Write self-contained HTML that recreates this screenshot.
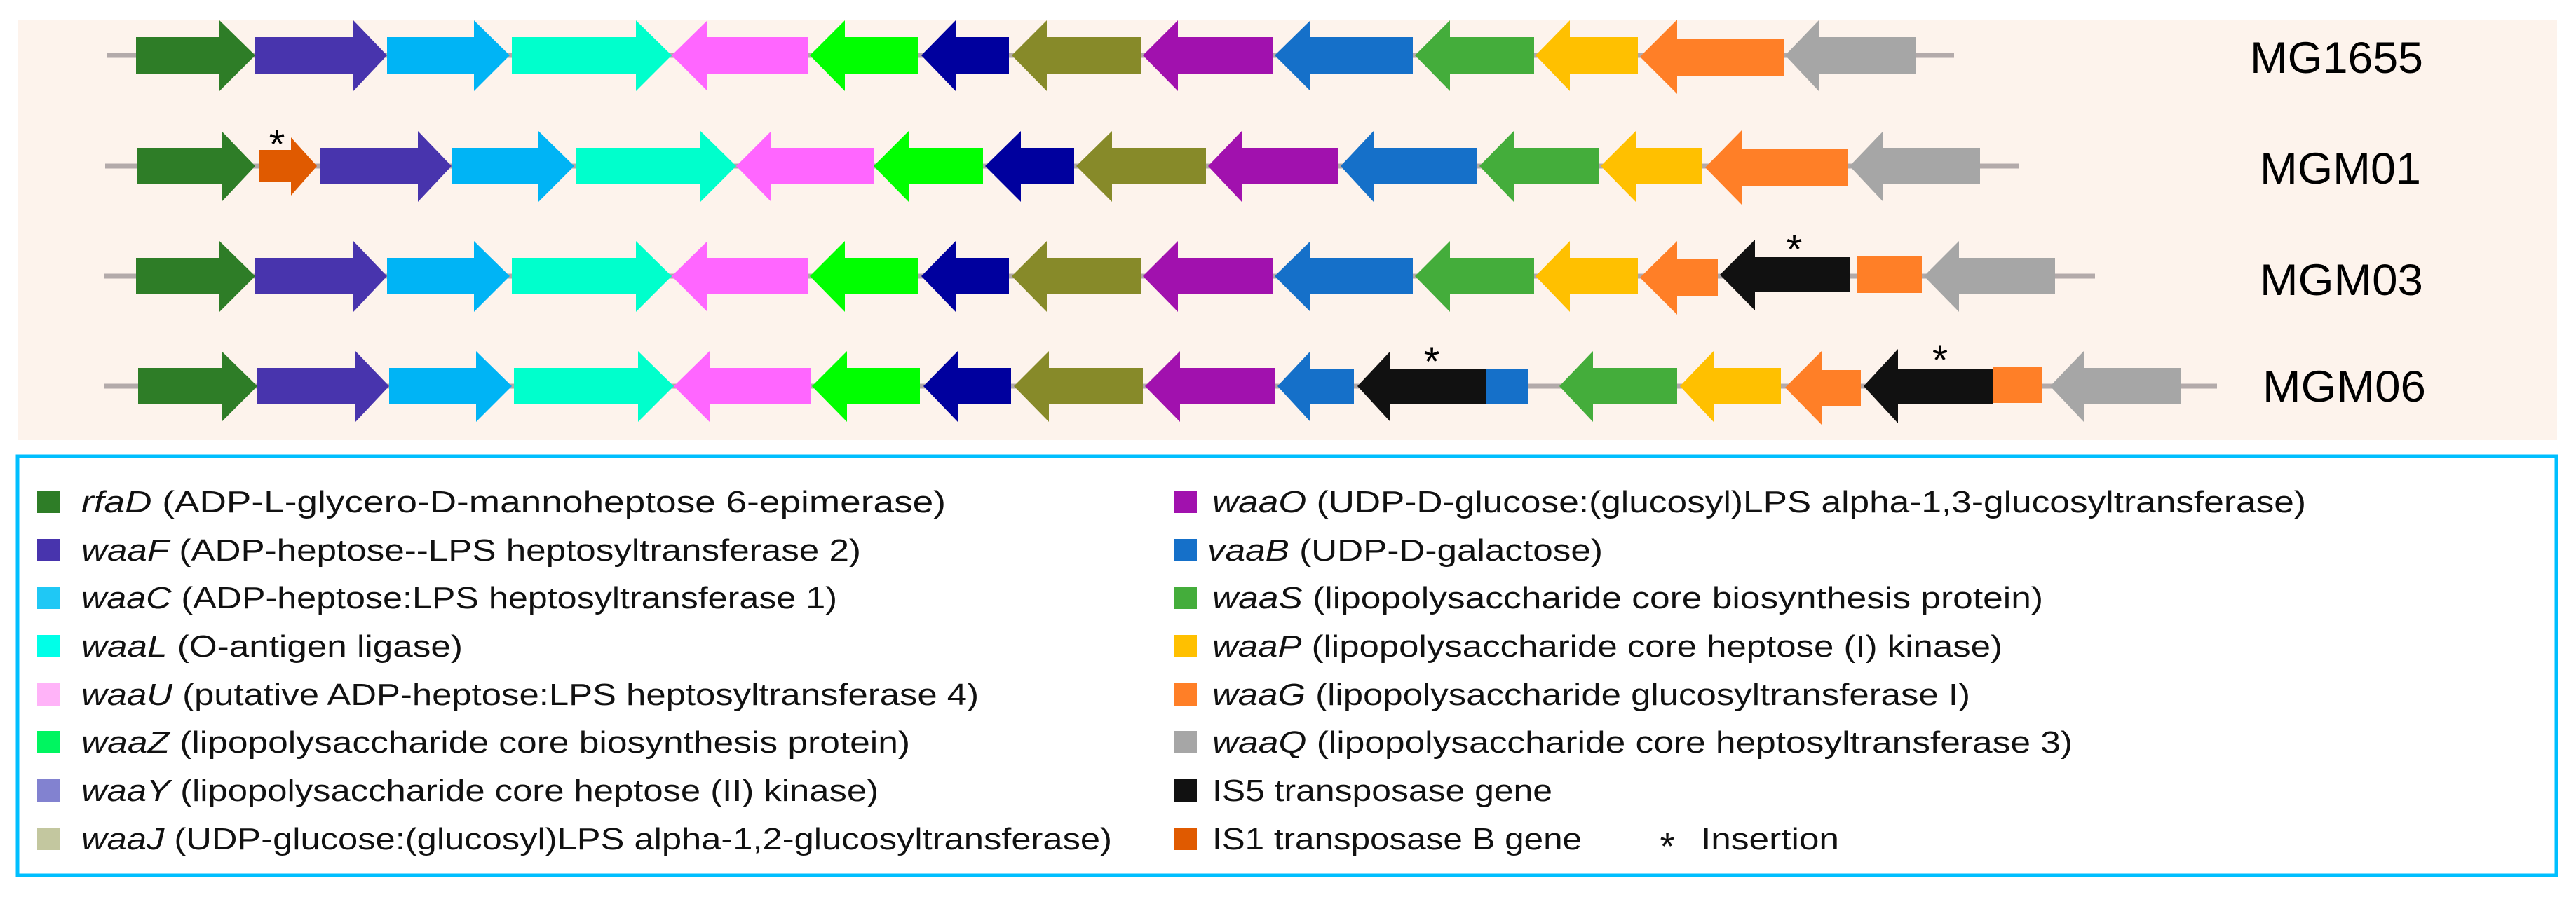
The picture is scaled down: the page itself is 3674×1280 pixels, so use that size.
<!DOCTYPE html>
<html><head><meta charset="utf-8"><style>
html,body{margin:0;padding:0;background:#fff;}
svg{display:block;}
</style></head><body>
<svg width="3674" height="1280" viewBox="0 0 3674 1280" xmlns="http://www.w3.org/2000/svg" font-family="'Liberation Sans', sans-serif">
<rect x="0" y="0" width="3674" height="1280" fill="#ffffff"/>
<rect x="26" y="29" width="3621" height="599" fill="#fdf3ec"/>

<g stroke="#b3aaaa" stroke-width="7">
<line x1="152" y1="79" x2="2787" y2="79"/>
<line x1="150" y1="237" x2="2880" y2="237"/>
<line x1="149" y1="394" x2="2988" y2="394"/>
<line x1="149" y1="551" x2="3162" y2="551"/>
</g>

<g>
<polygon fill="#2e7d27" points="194,53 313,53 313,29 364,79 313,130 313,105 194,105"/>
<polygon fill="#4834ad" points="364,53 504,53 504,29 552,79 504,130 504,105 364,105"/>
<polygon fill="#00b4f5" points="552,53 676,53 676,29 727,79 676,130 676,105 552,105"/>
<polygon fill="#00ffcc" points="730,53 907,53 907,29 958,79 907,130 907,105 730,105"/>
<polygon fill="#ff66ff" points="958,79 1009,29 1009,53 1153,53 1153,105 1009,105 1009,130"/>
<polygon fill="#00ff00" points="1155,79 1205,29 1205,53 1309,53 1309,105 1205,105 1205,130"/>
<polygon fill="#00009e" points="1314,79 1363,29 1363,53 1439,53 1439,105 1363,105 1363,130"/>
<polygon fill="#878a29" points="1443,79 1493,29 1493,53 1627,53 1627,105 1493,105 1493,130"/>
<polygon fill="#a111ae" points="1630,79 1680,29 1680,53 1816,53 1816,105 1680,105 1680,130"/>
<polygon fill="#1570c9" points="1818,79 1869,29 1869,53 2015,53 2015,105 1869,105 1869,130"/>
<polygon fill="#44ad3b" points="2018,79 2068,29 2068,53 2188,53 2188,105 2068,105 2068,130"/>
<polygon fill="#ffc000" points="2190,79 2239,29 2239,53 2336,53 2336,105 2239,105 2239,130"/>
<polygon fill="#ff7f27" points="2339,81 2392,28 2392,55 2544,55 2544,108 2392,108 2392,134"/>
<polygon fill="#a6a6a6" points="2546,79 2594,29 2594,53 2732,53 2732,105 2594,105 2594,130"/>
</g>

<g>
<polygon fill="#2e7d27" points="196,211 316,211 316,187 364,237 316,288 316,263 196,263"/>
<polygon fill="#e05a00" points="369,214 415,214 415,196 452,237 415,279 415,259 369,259"/>
<polygon fill="#4834ad" points="456,211 596,211 596,187 644,237 596,288 596,263 456,263"/>
<polygon fill="#00b4f5" points="644,211 768,211 768,187 819,237 768,288 768,263 644,263"/>
<polygon fill="#00ffcc" points="821,211 999,211 999,187 1050,237 999,288 999,263 821,263"/>
<polygon fill="#ff66ff" points="1050,237 1100,187 1100,211 1246,211 1246,263 1100,263 1100,288"/>
<polygon fill="#00ff00" points="1246,237 1296,187 1296,211 1402,211 1402,263 1296,263 1296,288"/>
<polygon fill="#00009e" points="1405,237 1456,187 1456,211 1532,211 1532,263 1456,263 1456,288"/>
<polygon fill="#878a29" points="1535,237 1586,187 1586,211 1720,211 1720,263 1586,263 1586,288"/>
<polygon fill="#a111ae" points="1723,237 1771,187 1771,211 1909,211 1909,263 1771,263 1771,288"/>
<polygon fill="#1570c9" points="1912,237 1959,187 1959,211 2106,211 2106,263 1959,263 1959,288"/>
<polygon fill="#44ad3b" points="2110,237 2159,187 2159,211 2280,211 2280,263 2159,263 2159,288"/>
<polygon fill="#ffc000" points="2283,237 2333,187 2333,211 2427,211 2427,263 2333,263 2333,288"/>
<polygon fill="#ff7f27" points="2432,239 2484,186 2484,213 2636,213 2636,266 2484,266 2484,292"/>
<polygon fill="#a6a6a6" points="2638,237 2686,187 2686,211 2824,211 2824,263 2686,263 2686,288"/>
<text x="395" y="226" font-size="58" text-anchor="middle" fill="#000">*</text>
</g>

<g>
<polygon fill="#2e7d27" points="194,368 313,368 313,344 364,394 313,445 313,420 194,420"/>
<polygon fill="#4834ad" points="364,368 504,368 504,344 552,394 504,445 504,420 364,420"/>
<polygon fill="#00b4f5" points="552,368 676,368 676,344 727,394 676,445 676,420 552,420"/>
<polygon fill="#00ffcc" points="730,368 907,368 907,344 958,394 907,445 907,420 730,420"/>
<polygon fill="#ff66ff" points="958,394 1009,344 1009,368 1153,368 1153,420 1009,420 1009,445"/>
<polygon fill="#00ff00" points="1155,394 1205,344 1205,368 1309,368 1309,420 1205,420 1205,445"/>
<polygon fill="#00009e" points="1314,394 1363,344 1363,368 1439,368 1439,420 1363,420 1363,445"/>
<polygon fill="#878a29" points="1443,394 1493,344 1493,368 1627,368 1627,420 1493,420 1493,445"/>
<polygon fill="#a111ae" points="1630,394 1680,344 1680,368 1816,368 1816,420 1680,420 1680,445"/>
<polygon fill="#1570c9" points="1818,394 1869,344 1869,368 2015,368 2015,420 1869,420 1869,445"/>
<polygon fill="#44ad3b" points="2018,394 2068,344 2068,368 2188,368 2188,420 2068,420 2068,445"/>
<polygon fill="#ffc000" points="2190,394 2239,344 2239,368 2336,368 2336,420 2239,420 2239,445"/>
<polygon fill="#ff7f27" points="2339,396 2392,344 2392,369 2450,369 2450,422 2392,422 2392,449"/>
<polygon fill="#111111" points="2453,392 2503,342 2503,367 2638,367 2638,416 2503,416 2503,443"/>
<rect x="2648" y="365" width="93" height="53" fill="#ff7f27"/>
<polygon fill="#a6a6a6" points="2744,394 2794,344 2794,368 2931,368 2931,420 2794,420 2794,445"/>
<text x="2559" y="376" font-size="58" text-anchor="middle" fill="#000">*</text>
</g>

<g>
<polygon fill="#2e7d27" points="197,525 316,525 316,501 367,551 316,602 316,577 197,577"/>
<polygon fill="#4834ad" points="367,525 507,525 507,501 555,551 507,602 507,577 367,577"/>
<polygon fill="#00b4f5" points="555,525 679,525 679,501 730,551 679,602 679,577 555,577"/>
<polygon fill="#00ffcc" points="733,525 910,525 910,501 961,551 910,602 910,577 733,577"/>
<polygon fill="#ff66ff" points="961,551 1012,501 1012,525 1156,525 1156,577 1012,577 1012,602"/>
<polygon fill="#00ff00" points="1158,551 1208,501 1208,525 1312,525 1312,577 1208,577 1208,602"/>
<polygon fill="#00009e" points="1317,551 1366,501 1366,525 1442,525 1442,577 1366,577 1366,602"/>
<polygon fill="#878a29" points="1446,551 1496,501 1496,525 1630,525 1630,577 1496,577 1496,602"/>
<polygon fill="#a111ae" points="1633,551 1683,501 1683,525 1819,525 1819,577 1683,577 1683,602"/>
<polygon fill="#1570c9" points="1822,551 1869,501 1869,526 1931,526 1931,576 1869,576 1869,602"/>
<polygon fill="#111111" points="1936,551 1983,501 1983,526 2120,526 2120,576 1983,576 1983,602"/>
<rect x="2120" y="526" width="60" height="50" fill="#1570c9"/>
<polygon fill="#44ad3b" points="2224,551 2272,501 2272,525 2392,525 2392,577 2272,577 2272,602"/>
<polygon fill="#ffc000" points="2396,551 2444,501 2444,525 2540,525 2540,577 2444,577 2444,602"/>
<polygon fill="#ff7f27" points="2546,553 2598,501 2598,528 2654,528 2654,580 2598,580 2598,606"/>
<polygon fill="#111111" points="2658,551 2707,498 2707,526 2843,526 2843,576 2707,576 2707,604"/>
<rect x="2843" y="523" width="70" height="52" fill="#ff7f27"/>
<polygon fill="#a6a6a6" points="2924,551 2972,501 2972,525 3110,525 3110,577 2972,577 2972,602"/>
<text x="2042" y="536" font-size="58" text-anchor="middle" fill="#000">*</text>
<text x="2767" y="534" font-size="58" text-anchor="middle" fill="#000">*</text>
</g>

<g font-size="63" fill="#000">
<text x="3209" y="104" textLength="247" lengthAdjust="spacingAndGlyphs">MG1655</text>
<text x="3223" y="262" textLength="230" lengthAdjust="spacingAndGlyphs">MGM01</text>
<text x="3223" y="421" textLength="233" lengthAdjust="spacingAndGlyphs">MGM03</text>
<text x="3227" y="573" textLength="233" lengthAdjust="spacingAndGlyphs">MGM06</text>
</g>

<rect x="25" y="651" width="3621" height="598" fill="none" stroke="#00bfff" stroke-width="5"/>

<g font-size="44" fill="#111">
<rect x="53" y="700" width="32" height="32" fill="#2e7d27"/>
<text x="116" y="731" textLength="1233" lengthAdjust="spacingAndGlyphs"><tspan font-style="italic">rfaD</tspan> (ADP-L-glycero-D-mannoheptose 6-epimerase)</text>
<rect x="53" y="769" width="32" height="32" fill="#4834ad"/>
<text x="116" y="800" textLength="1112" lengthAdjust="spacingAndGlyphs"><tspan font-style="italic">waaF</tspan> (ADP-heptose--LPS heptosyltransferase 2)</text>
<rect x="53" y="837" width="32" height="32" fill="#1fc8f5"/>
<text x="116" y="868" textLength="1078" lengthAdjust="spacingAndGlyphs"><tspan font-style="italic">waaC</tspan> (ADP-heptose:LPS heptosyltransferase 1)</text>
<rect x="53" y="906" width="32" height="32" fill="#00ffe8"/>
<text x="116" y="937" textLength="544" lengthAdjust="spacingAndGlyphs"><tspan font-style="italic">waaL</tspan> (O-antigen ligase)</text>
<rect x="53" y="975" width="32" height="32" fill="#ffb3f8"/>
<text x="116" y="1006" textLength="1280" lengthAdjust="spacingAndGlyphs"><tspan font-style="italic">waaU</tspan> (putative ADP-heptose:LPS heptosyltransferase 4)</text>
<rect x="53" y="1043" width="32" height="32" fill="#00f560"/>
<text x="116" y="1074" textLength="1182" lengthAdjust="spacingAndGlyphs"><tspan font-style="italic">waaZ</tspan> (lipopolysaccharide core biosynthesis protein)</text>
<rect x="53" y="1112" width="32" height="32" fill="#8282d0"/>
<text x="116" y="1143" textLength="1137" lengthAdjust="spacingAndGlyphs"><tspan font-style="italic">waaY</tspan> (lipopolysaccharide core heptose (II) kinase)</text>
<rect x="53" y="1181" width="32" height="32" fill="#c3c79f"/>
<text x="116" y="1212" textLength="1470" lengthAdjust="spacingAndGlyphs"><tspan font-style="italic">waaJ</tspan> (UDP-glucose:(glucosyl)LPS alpha-1,2-glucosyltransferase)</text>

<rect x="1674" y="700" width="33" height="32" fill="#a111ae"/>
<text x="1729" y="731" textLength="1560" lengthAdjust="spacingAndGlyphs"><tspan font-style="italic">waaO</tspan> (UDP-D-glucose:(glucosyl)LPS alpha-1,3-glucosyltransferase)</text>
<rect x="1674" y="769" width="33" height="32" fill="#1570c9"/>
<text x="1722" y="800" textLength="564" lengthAdjust="spacingAndGlyphs"><tspan font-style="italic">vaaB</tspan> (UDP-D-galactose)</text>
<rect x="1674" y="837" width="33" height="32" fill="#44ad3b"/>
<text x="1729" y="868" textLength="1185" lengthAdjust="spacingAndGlyphs"><tspan font-style="italic">waaS</tspan> (lipopolysaccharide core biosynthesis protein)</text>
<rect x="1674" y="906" width="33" height="32" fill="#ffc000"/>
<text x="1729" y="937" textLength="1127" lengthAdjust="spacingAndGlyphs"><tspan font-style="italic">waaP</tspan> (lipopolysaccharide core heptose (I) kinase)</text>
<rect x="1674" y="975" width="33" height="32" fill="#ff7f27"/>
<text x="1729" y="1006" textLength="1081" lengthAdjust="spacingAndGlyphs"><tspan font-style="italic">waaG</tspan> (lipopolysaccharide glucosyltransferase I)</text>
<rect x="1674" y="1043" width="33" height="32" fill="#a6a6a6"/>
<text x="1729" y="1074" textLength="1227" lengthAdjust="spacingAndGlyphs"><tspan font-style="italic">waaQ</tspan> (lipopolysaccharide core heptosyltransferase 3)</text>
<rect x="1674" y="1112" width="33" height="32" fill="#111111"/>
<text x="1729" y="1143" textLength="485" lengthAdjust="spacingAndGlyphs">IS5 transposase gene</text>
<rect x="1674" y="1181" width="33" height="32" fill="#e05a00"/>
<text x="1729" y="1212" textLength="527" lengthAdjust="spacingAndGlyphs">IS1 transposase B gene</text>
<text x="2378" y="1226" font-size="54" text-anchor="middle">*</text>
<text x="2426" y="1212" textLength="197" lengthAdjust="spacingAndGlyphs">Insertion</text>
</g>
</svg>
</body></html>
